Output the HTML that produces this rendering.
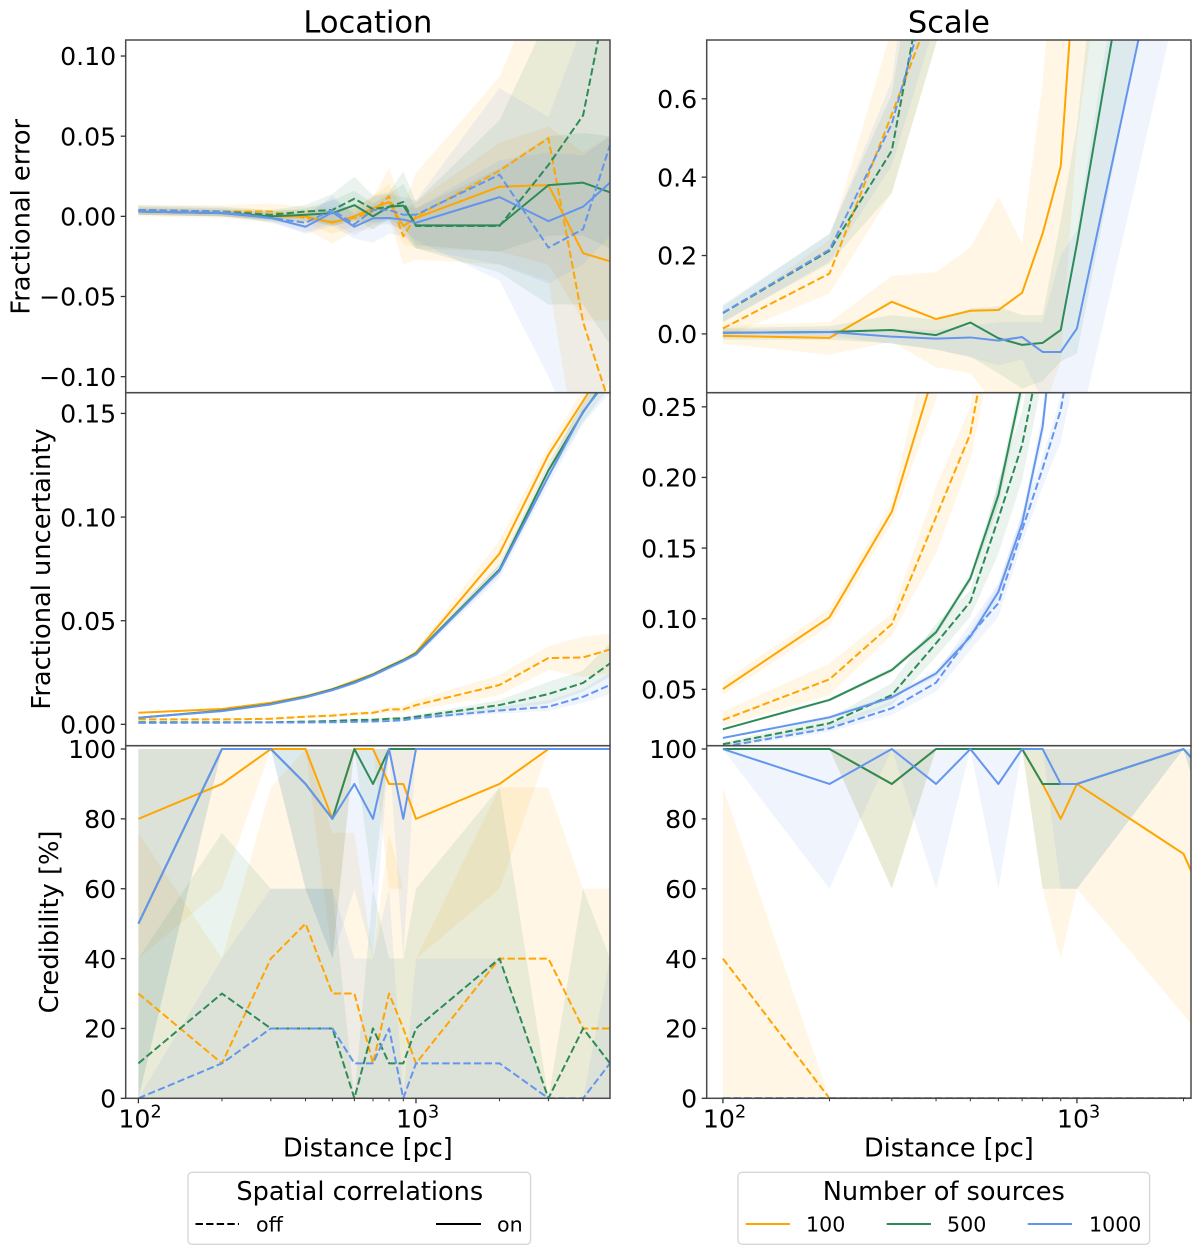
<!DOCTYPE html>
<html lang="en">
<head>
<meta charset="utf-8">
<title>Location and Scale fractional error, uncertainty and credibility</title>
<style>
html,body{margin:0;padding:0;background:#fff;}
svg{display:block;font-family:"DejaVu Sans","Liberation Sans",sans-serif;fill:#000;}
</style>
</head>
<body>
<svg id="figure" width="1200" height="1254" viewBox="0 0 1200 1254" xmlns="http://www.w3.org/2000/svg">
  <defs id="clip-defs"></defs>
  <g id="plots"></g>
  <text x="367.9" y="32.3" font-size="30.5" text-anchor="middle">Location</text>
  <text x="948.9" y="32.3" font-size="30.5" text-anchor="middle">Scale</text>
  <text transform="translate(29.5 216.8) rotate(-90)" font-size="25.7" text-anchor="middle">Fractional error</text>
  <text transform="translate(50 569) rotate(-90)" font-size="25.7" text-anchor="middle">Fractional uncertainty</text>
  <text transform="translate(58 922) rotate(-90)" font-size="25.7" text-anchor="middle">Credibility [%]</text>
  <text x="367.9" y="1156.7" font-size="25.5" text-anchor="middle">Distance [pc]</text>
  <text x="948.9" y="1156.7" font-size="25.5" text-anchor="middle">Distance [pc]</text>

  <g>
    <rect x="188" y="1172.3" width="342.6" height="72" rx="4" fill="#fff" stroke="#d6d6d6" stroke-width="1.3"/>
    <text x="359.8" y="1200" font-size="25.6" text-anchor="middle">Spatial correlations</text>
    <line x1="195.5" y1="1224" x2="239" y2="1224" stroke="#000" stroke-width="2" stroke-dasharray="7.4 3.2"/>
    <text x="256" y="1231.7" font-size="20.6">off</text>
    <line x1="436" y1="1224" x2="481" y2="1224" stroke="#000" stroke-width="2"/>
    <text x="497" y="1231.7" font-size="20.6">on</text>
  </g>
  <g>
    <rect x="738" y="1172.3" width="411.6" height="72" rx="4" fill="#fff" stroke="#d6d6d6" stroke-width="1.3"/>
    <text x="943.8" y="1200" font-size="25.6" text-anchor="middle">Number of sources</text>
    <line x1="745.6" y1="1224" x2="790" y2="1224" stroke="#ffa500" stroke-width="2"/>
    <text x="806" y="1231.7" font-size="20.6">100</text>
    <line x1="886.7" y1="1224" x2="931" y2="1224" stroke="#2e8b57" stroke-width="2"/>
    <text x="947" y="1231.7" font-size="20.6">500</text>
    <line x1="1027.7" y1="1224" x2="1072" y2="1224" stroke="#6495ed" stroke-width="2"/>
    <text x="1089" y="1231.7" font-size="20.6">1000</text>
  </g>
</svg>
<script>
// ---------- categories ----------
const distancesLocation = [100,200,300,400,500,600,700,800,900,1000,2000,3000,4000,5000];
const distancesScale = [100,200,300,400,500,600,700,800,900,1000,2000,3000];

// ---------- Location: fractional error ----------
const locErrOrangeOff = [.004,.003,.003,-.001,-.0035,-.001,.003,.0125,-.0125,0,.0285,.0487,-.066,-.118];
const locErrOrangeOffHi = [.007,.007,.008,.006,.006,.006,.012,.03,.006,.027,.087,.16,.13,.12];
const locErrOrangeOffLo = [.001,0,-.002,-.008,-.017,-.009,-.008,0,-.03,-.027,-.03,-.04,-.17,-.2];
const locErrOrangeOn = [.003,.002,0,0,-.004,0,.005,.009,-.006,-.001,.0185,.0195,-.023,-.028];
const locErrOrangeOnHi = [.006,.005,.004,.004,.003,.005,.013,.02,.004,.009,.046,.056,.04,.05];
const locErrOrangeOnLo = [0,-.001,-.004,-.004,-.011,-.006,-.003,-.002,-.017,-.02,-.022,-.03,-.065,-.065];
const locErrGreenOff = [.004,.003,.001,.003,.004,.011,.0045,.006,.009,-.006,-.006,.032,.063,.147];
const locErrGreenOffHi = [.007,.006,.004,.007,.014,.0247,.013,.015,.028,.009,.06,.125,.2,.3];
const locErrGreenOffLo = [.001,0,-.002,-.001,-.006,-.003,-.004,-.003,-.01,-.02,-.035,-.055,-.055,-.08];
const locErrGreenOn = [.003,.002,0,.001,.002,.007,0,.006,.0067,-.0056,-.0056,.0195,.021,.015];
const locErrGreenOnHi = [.005,.004,.003,.005,.01,.016,.008,.014,.02,.005,.03,.05,.052,.05];
const locErrGreenOnLo = [.001,0,-.003,-.003,-.006,-.002,-.008,-.002,-.006,-.018,-.022,-.012,-.012,-.02];
const locErrBlueOff = [.004,.003,-.001,-.004,.004,-.005,.004,.004,.001,.001,.026,-.0195,-.008,.0445];
const locErrBlueOffHi = [.006,.005,.002,.002,.011,.002,.012,.014,.012,.01,.08,.062,.12,.2];
const locErrBlueOffLo = [.002,.001,-.004,-.01,-.004,-.012,-.005,-.005,-.008,-.015,-.04,-.1,-.15,-.1];
const locErrBlueOn = [.003,.002,-.001,-.0065,.0025,-.0065,-.0012,-.001,-.002,-.004,.012,-.003,.006,.021];
const locErrBlueOnHi = [.005,.004,.001,-.001,.013,.001,.007,.008,.007,.005,.035,.04,.038,.05];
const locErrBlueOnLo = [.001,0,-.003,-.011,-.006,-.014,-.0165,-.011,-.012,-.02,-.03,-.042,-.03,-.012];

// ---------- Scale: fractional error ----------
const scaErrOrangeOff = [.014,.154,.56,.858,1.2,1.6,2,2.4,2.8,3.2,6,9];
const scaErrOrangeOffHi = [.045,.24,.78,1.4,1.9,2.4,3,3.5,4,4.5,8,12];
const scaErrOrangeOffLo = [-.01,.103,.36,.74,.9,1.2,1.5,1.8,2.2,2.6,4.5,7];
const scaErrOrangeOn = [-.005,-.01,.082,.038,.059,.061,.105,.256,.428,1.02,3,5];
const scaErrOrangeOnHi = [.02,.03,.148,.158,.22,.35,.23,.64,1.2,1.7,4,6];
const scaErrOrangeOnLo = [-.025,-.053,-.02,-.085,-.1,-.19,-.25,-.2,-.07,.5,2.5,4];
const scaErrGreenOff = [.053,.212,.468,1.07,1.4,1.8,2.2,2.6,3,3.4,6,9];
const scaErrGreenOffHi = [.074,.256,.612,1.3,1.7,2.1,2.5,3,3.4,3.8,7,10];
const scaErrGreenOffLo = [.03,.18,.36,.74,1.1,1.4,1.8,2.2,2.6,3,5,8];
const scaErrGreenOn = [.003,.005,.01,-.003,.029,-.011,-.028,-.023,.01,.23,1.82,3.5];
const scaErrGreenOnHi = [.015,.02,.048,.036,.065,.07,.048,.048,.29,.53,3,5];
const scaErrGreenOnLo = [-.015,-.015,-.024,-.04,-.058,-.1,-.14,-.12,-.07,-.05,1.35,3];
const scaErrBlueOff = [.054,.215,.536,.943,1.3,1.7,2.1,2.5,2.9,3.3,6,9];
const scaErrBlueOffHi = [.07,.255,.646,1.5,1.8,2.2,2.6,3,3.4,3.8,7,10];
const scaErrBlueOffLo = [.03,.185,.43,.8,1.1,1.4,1.8,2.2,2.6,3,5,8];
const scaErrBlueOn = [.003,.005,-.007,-.012,-.009,-.017,-.008,-.046,-.046,.014,1.29,2.5];
const scaErrBlueOnHi = [.012,.012,.012,.01,.02,.03,.03,.03,.2,.265,2,4];
const scaErrBlueOnLo = [-.01,-.005,-.025,-.04,-.06,-.08,-.065,-.17,-.25,-.266,.917,2];

// ---------- Location: fractional uncertainty ----------
const locUncOrangeOff = [.0024,.0024,.0027,.0037,.0042,.0051,.0056,.0072,.0072,.0093,.019,.032,.0323,.0361];
const locUncOrangeOffHi = [.0029,.0029,.0033,.0044,.005,.006,.0066,.0085,.0088,.0117,.0238,.0377,.0422,.0438];
const locUncOrangeOffLo = [.0019,.0019,.0021,.003,.0034,.0042,.0046,.0059,.0056,.0069,.0141,.0262,.023,.0246];
const locUncOrangeOn = [.0056,.0074,.0104,.0136,.017,.0209,.0242,.028,.031,.0347,.0824,.13,.156,.177];
const locUncOrangeOnHi = [.0059,.0078,.011,.0143,.0178,.0218,.0252,.029,.0325,.036,.0888,.134,.162,.185];
const locUncOrangeOnLo = [.0053,.007,.0098,.0129,.0162,.02,.0232,.027,.0298,.0335,.0765,.125,.15,.17];
const locUncGreenOff = [.001,.001,.001,.0013,.0016,.0021,.0022,.0027,.0029,.0037,.0093,.0146,.02,.0294];
const locUncGreenOffHi = [.0013,.0013,.0013,.0016,.002,.0026,.0027,.0033,.0036,.0046,.0117,.0205,.026,.039];
const locUncGreenOffLo = [.0007,.0007,.0007,.001,.0012,.0016,.0017,.0021,.0022,.0028,.0069,.0101,.0157,.023];
const locUncGreenOn = [.0032,.0066,.0098,.0133,.0169,.0204,.024,.0278,.031,.0342,.0747,.1225,.1506,.169];
const locUncGreenOnHi = [.0035,.0069,.0102,.0138,.0175,.0211,.0248,.0287,.0319,.0352,.077,.126,.155,.175];
const locUncGreenOnLo = [.0029,.0063,.0094,.0128,.0163,.0197,.0232,.0269,.0301,.0332,.0724,.119,.146,.163];
const locUncBlueOff = [.0007,.0008,.0009,.0009,.001,.0012,.0014,.0016,.002,.0029,.0067,.0085,.0133,.019];
const locUncBlueOffHi = [.0009,.001,.0011,.0011,.0013,.0015,.0018,.002,.0025,.0036,.0085,.0115,.017,.025];
const locUncBlueOffLo = [.0005,.0006,.0007,.0007,.0007,.0009,.001,.0012,.0015,.0022,.0052,.0065,.0105,.0145];
const locUncBlueOn = [.0032,.0064,.0096,.013,.0165,.02,.0236,.0273,.0305,.0337,.074,.1196,.151,.1675];
const locUncBlueOnHi = [.0035,.0068,.0101,.0136,.0172,.0208,.0245,.0283,.0315,.0348,.0775,.1235,.157,.175];
const locUncBlueOnLo = [.0029,.006,.0091,.0124,.0158,.0192,.0227,.0263,.0295,.0326,.0705,.1157,.145,.16];

// ---------- Scale: fractional uncertainty ----------
const scaUncOrangeOff = [.0283,.0571,.0962,.172,.231,.34,.5,.7,.9,1.1,3,5];
const scaUncOrangeOffHi = [.0342,.0684,.1038,.1934,.25,.38,.56,.78,1,1.2,3.4,5.5];
const scaUncOrangeOffLo = [.0236,.046,.0885,.1463,.2123,.31,.45,.62,.8,1,2.6,4.5];
const scaUncOrangeOn = [.0502,.101,.1757,.279,.45,.65,.9,1.2,1.5,1.8,4,6];
const scaUncOrangeOnHi = [.0554,.107,.1825,.32,.5,.72,1,1.3,1.6,2,4.5,7];
const scaUncOrangeOnLo = [.046,.095,.168,.2548,.4,.58,.8,1.1,1.4,1.6,3.5,5];
const scaUncGreenOff = [.0111,.026,.046,.0826,.112,.171,.223,.2957,.42,.6,2.2,3.6];
const scaUncGreenOffHi = [.0125,.03,.0543,.0967,.12,.198,.2465,.33,.46,.65,2.4,3.9];
const scaUncGreenOffLo = [.0095,.0225,.039,.0731,.1014,.146,.198,.27,.38,.55,2,3.3];
const scaUncGreenOn = [.0217,.0425,.0637,.0904,.1286,.1875,.266,.4,.55,.75,2.5,4];
const scaUncGreenOnHi = [.0225,.0435,.0655,.093,.132,.195,.275,.41,.57,.77,2.6,4.2];
const scaUncGreenOnLo = [.021,.0415,.062,.088,.125,.18,.257,.39,.53,.73,2.4,3.8];
const scaUncBlueOff = [.0094,.0224,.0366,.0547,.0885,.111,.1628,.2064,.2477,.3138,1.5,3];
const scaUncBlueOffHi = [.0115,.0255,.0415,.0613,.0967,.125,.1746,.2147,.2571,.34,1.7,3.3];
const scaUncBlueOffLo = [.008,.02,.032,.0484,.0778,.1014,.1533,.1934,.2253,.28,1.3,2.7];
const scaUncBlueOn = [.0156,.0302,.0443,.0613,.0873,.119,.1675,.236,.354,.5,2,3.5];
const scaUncBlueOnHi = [.0163,.0315,.046,.064,.091,.124,.174,.246,.37,.52,2.1,3.7];
const scaUncBlueOnLo = [.0149,.029,.0427,.059,.084,.114,.161,.226,.34,.48,1.9,3.3];

// ---------- Location: credibility ----------
const locCredOrangeOff = [30,10,40,50,30,30,10,30,20,10,40,40,20,20];
const locCredOrangeOffHi = [76,40,89,100,76,76,40,76,60,40,89,89,60,60];
const locCredOrangeOffLo = [0,0,0,0,0,0,0,0,0,0,0,0,0,0];
const locCredOrangeOn = [80,90,100,100,80,100,100,90,90,80,90,100,100,100];
const locCredOrangeOnHi = [100,100,100,100,100,100,100,100,100,100,100,100,100,100];
const locCredOrangeOnLo = [40,60,100,100,40,100,100,60,60,40,60,100,100,100];
const locCredGreenOff = [10,30,20,20,20,0,20,10,10,20,40,0,20,10];
const locCredGreenOffHi = [40,76,60,60,60,0,60,40,40,60,89,0,60,40];
const locCredGreenOffLo = [0,0,0,0,0,0,0,0,0,0,0,0,0,0];
const locCredGreenOn = [50,100,100,90,80,100,90,100,100,100,100,100,100,100];
const locCredGreenOnHi = [100,100,100,100,100,100,100,100,100,100,100,100,100,100];
const locCredGreenOnLo = [0,100,100,60,40,100,60,100,100,100,100,100,100,100];
const locCredBlueOff = [0,10,20,20,20,10,10,20,0,10,10,0,0,10];
const locCredBlueOffHi = [0,40,60,60,60,40,40,60,0,40,40,0,0,40];
const locCredBlueOffLo = [0,0,0,0,0,0,0,0,0,0,0,0,0,0];
const locCredBlueOn = [50,100,100,90,80,90,80,100,80,100,100,100,100,100];
const locCredBlueOnHi = [100,100,100,100,100,100,100,100,100,100,100,100,100,100];
const locCredBlueOnLo = [0,100,100,60,40,60,40,100,40,100,100,100,100,100];

// ---------- Scale: credibility ----------
const scaCredOrangeOff = [40,0,0,0,0,0,0,0,0,0,0,0];
const scaCredOrangeOffHi = [89,0,0,0,0,0,0,0,0,0,0,0];
const scaCredOrangeOffLo = [0,0,0,0,0,0,0,0,0,0,0,0];
const scaCredOrangeOn = [100,100,90,100,100,100,100,90,80,90,70,30];
const scaCredOrangeOnHi = [100,100,100,100,100,100,100,100,100,100,100,76];
const scaCredOrangeOnLo = [100,100,60,100,100,100,100,60,40,60,24,0];
const scaCredGreenOff = [0,0,0,0,0,0,0,0,0,0,0,0];
const scaCredGreenOffHi = [0,0,0,0,0,0,0,0,0,0,0,0];
const scaCredGreenOffLo = [0,0,0,0,0,0,0,0,0,0,0,0];
const scaCredGreenOn = [100,100,90,100,100,100,100,90,90,90,100,80];
const scaCredGreenOnHi = [100,100,100,100,100,100,100,100,100,100,100,100];
const scaCredGreenOnLo = [100,100,60,100,100,100,100,60,60,60,100,40];
const scaCredBlueOff = [0,0,0,0,0,0,0,0,0,0,0,0];
const scaCredBlueOffHi = [0,0,0,0,0,0,0,0,0,0,0,0];
const scaCredBlueOffLo = [0,0,0,0,0,0,0,0,0,0,0,0];
const scaCredBlueOn = [100,90,100,90,100,90,100,100,90,90,100,80];
const scaCredBlueOnHi = [100,100,100,100,100,100,100,100,100,100,100,100];
const scaCredBlueOnLo = [100,60,100,60,100,60,100,100,60,60,100,40];

// ---------- tick values and labels ----------
const locErrTicks = [-0.1,-0.05,0,0.05,0.1];
const locErrTickLabels = ['\u22120.10','\u22120.05','0.00','0.05','0.10'];
const scaErrTicks = [0,0.2,0.4,0.6];
const scaErrTickLabels = ['0.0','0.2','0.4','0.6'];
const locUncTicks = [0,0.05,0.1,0.15];
const locUncTickLabels = ['0.00','0.05','0.10','0.15'];
const scaUncTicks = [0.05,0.1,0.15,0.2,0.25];
const scaUncTickLabels = ['0.05','0.10','0.15','0.20','0.25'];
const credTicks = [0,20,40,60,80,100];
const credTickLabels = ['0','20','40','60','80','100'];
const xMajorTicks = [100,1000];
const xMajorExponents = ['2','3'];
const xMinorTicksLocation = [200,300,400,500,600,700,800,900,2000,3000,4000];
const xMinorTicksScale = [200,300,400,500,600,700,800,900,2000];

// ---------- drawing ----------
const NS = 'http://www.w3.org/2000/svg';
const plots = document.getElementById('plots');
const clipDefs = document.getElementById('clip-defs');

const colLeft = {x0:125.7, x1:610, xMin:90, xMax:5000, minors:xMinorTicksLocation};
const colRight = {x0:706.7, x1:1191, xMin:90, xMax:2100, minors:xMinorTicksScale};
const seriesKeys = ['orange-off','orange-on','green-off','green-on','blue-off','blue-on'];
const seriesColors = ['#ffa500','#ffa500','#2e8b57','#2e8b57','#6495ed','#6495ed'];

const panels = [
  {name:'location-error', col:colLeft, top:40, bottom:392.7, yMin:-0.11, yMax:0.11, xs:distancesLocation, ticks:locErrTicks, labels:locErrTickLabels, series:[
    [locErrOrangeOff,locErrOrangeOffLo,locErrOrangeOffHi],[locErrOrangeOn,locErrOrangeOnLo,locErrOrangeOnHi],
    [locErrGreenOff,locErrGreenOffLo,locErrGreenOffHi],[locErrGreenOn,locErrGreenOnLo,locErrGreenOnHi],
    [locErrBlueOff,locErrBlueOffLo,locErrBlueOffHi],[locErrBlueOn,locErrBlueOnLo,locErrBlueOnHi]]},
  {name:'scale-error', col:colRight, top:40, bottom:392.7, yMin:-0.15, yMax:0.75, xs:distancesScale, ticks:scaErrTicks, labels:scaErrTickLabels, series:[
    [scaErrOrangeOff,scaErrOrangeOffLo,scaErrOrangeOffHi],[scaErrOrangeOn,scaErrOrangeOnLo,scaErrOrangeOnHi],
    [scaErrGreenOff,scaErrGreenOffLo,scaErrGreenOffHi],[scaErrGreenOn,scaErrGreenOnLo,scaErrGreenOnHi],
    [scaErrBlueOff,scaErrBlueOffLo,scaErrBlueOffHi],[scaErrBlueOn,scaErrBlueOnLo,scaErrBlueOnHi]]},
  {name:'location-uncertainty', col:colLeft, top:392.7, bottom:745.7, yMin:-0.0103, yMax:0.16, xs:distancesLocation, ticks:locUncTicks, labels:locUncTickLabels, series:[
    [locUncOrangeOff,locUncOrangeOffLo,locUncOrangeOffHi],[locUncOrangeOn,locUncOrangeOnLo,locUncOrangeOnHi],
    [locUncGreenOff,locUncGreenOffLo,locUncGreenOffHi],[locUncGreenOn,locUncGreenOnLo,locUncGreenOnHi],
    [locUncBlueOff,locUncBlueOffLo,locUncBlueOffHi],[locUncBlueOn,locUncBlueOnLo,locUncBlueOnHi]]},
  {name:'scale-uncertainty', col:colRight, top:392.7, bottom:745.7, yMin:0.0101, yMax:0.26, xs:distancesScale, ticks:scaUncTicks, labels:scaUncTickLabels, series:[
    [scaUncOrangeOff,scaUncOrangeOffLo,scaUncOrangeOffHi],[scaUncOrangeOn,scaUncOrangeOnLo,scaUncOrangeOnHi],
    [scaUncGreenOff,scaUncGreenOffLo,scaUncGreenOffHi],[scaUncGreenOn,scaUncGreenOnLo,scaUncGreenOnHi],
    [scaUncBlueOff,scaUncBlueOffLo,scaUncBlueOffHi],[scaUncBlueOn,scaUncBlueOnLo,scaUncBlueOnHi]]},
  {name:'location-credibility', col:colLeft, top:745.7, bottom:1098.3, yMin:0, yMax:100.95, xs:distancesLocation, ticks:credTicks, labels:credTickLabels, hasXAxis:true, series:[
    [locCredOrangeOff,locCredOrangeOffLo,locCredOrangeOffHi],[locCredOrangeOn,locCredOrangeOnLo,locCredOrangeOnHi],
    [locCredGreenOff,locCredGreenOffLo,locCredGreenOffHi],[locCredGreenOn,locCredGreenOnLo,locCredGreenOnHi],
    [locCredBlueOff,locCredBlueOffLo,locCredBlueOffHi],[locCredBlueOn,locCredBlueOnLo,locCredBlueOnHi]]},
  {name:'scale-credibility', col:colRight, top:745.7, bottom:1098.3, yMin:0, yMax:100.95, xs:distancesScale, ticks:credTicks, labels:credTickLabels, hasXAxis:true, series:[
    [scaCredOrangeOff,scaCredOrangeOffLo,scaCredOrangeOffHi],[scaCredOrangeOn,scaCredOrangeOnLo,scaCredOrangeOnHi],
    [scaCredGreenOff,scaCredGreenOffLo,scaCredGreenOffHi],[scaCredGreenOn,scaCredGreenOnLo,scaCredGreenOnHi],
    [scaCredBlueOff,scaCredBlueOffLo,scaCredBlueOffHi],[scaCredBlueOn,scaCredBlueOnLo,scaCredBlueOnHi]]}
];

function xPos(panel, d) {
  const c = panel.col;
  const a = Math.log10(c.xMin), b = Math.log10(c.xMax);
  return c.x0 + (Math.log10(d) - a) / (b - a) * (c.x1 - c.x0);
}
function yPos(panel, v) {
  return panel.bottom - (v - panel.yMin) / (panel.yMax - panel.yMin) * (panel.bottom - panel.top);
}
function make(tag, attrs) {
  const el = document.createElementNS(NS, tag);
  for (const k in attrs) el.setAttribute(k, attrs[k]);
  return el;
}

// row-stacked panels: draw bands and lines first, then frames and labels
panels.forEach(function (panel) {
  const clip = make('clipPath', {id: 'clip-' + panel.name});
  clip.appendChild(make('rect', {x: panel.col.x0, y: panel.top, width: panel.col.x1 - panel.col.x0, height: panel.bottom - panel.top}));
  clipDefs.appendChild(clip);

  const group = make('g', {'clip-path': 'url(#clip-' + panel.name + ')'});
  
  
  plots.appendChild(group);

  panel.series.forEach(function (s, i) {
    const up = panel.xs.map(function (d, j) { return xPos(panel, d).toFixed(2) + ',' + yPos(panel, s[2][j]).toFixed(2); });
    const down = panel.xs.map(function (d, j) { return xPos(panel, d).toFixed(2) + ',' + yPos(panel, s[1][j]).toFixed(2); }).reverse();
    const band = make('polygon', {points: up.concat(down).join(' '), fill: seriesColors[i], 'fill-opacity': 0.1, stroke: 'none'});
    
    
    group.appendChild(band);
  });

  panel.series.forEach(function (s, i) {
    const pts = panel.xs.map(function (d, j) { return xPos(panel, d).toFixed(2) + ',' + yPos(panel, s[0][j]).toFixed(2); });
    const line = make('polyline', {points: pts.join(' '), fill: 'none', stroke: seriesColors[i], 'stroke-width': 2, 'stroke-linejoin': 'round'});
    if (i % 2 === 0) line.setAttribute('stroke-dasharray', '7.4 3.2');
    
    
    group.appendChild(line);
  });
});

panels.forEach(function (panel) {
  const axis = make('g', {});
  
  
  plots.appendChild(axis);

  const frame = make('rect', {x: panel.col.x0, y: panel.top, width: panel.col.x1 - panel.col.x0, height: panel.bottom - panel.top, fill: 'none', stroke: '#4a4a4a', 'stroke-width': 1.5});
  
  
  axis.appendChild(frame);

  panel.ticks.forEach(function (t, i) {
    const y = yPos(panel, t);
    const tick = make('line', {x1: panel.col.x0 - 5, x2: panel.col.x0, y1: y, y2: y, stroke: '#333', 'stroke-width': 1.3});
    
    
    axis.appendChild(tick);
    const label = make('text', {x: panel.col.x0 - 9.5, y: y + 9.2, 'font-size': 25.2, 'text-anchor': 'end'});
    label.textContent = panel.labels[i];
    
    
    axis.appendChild(label);
  });

  if (panel.hasXAxis) {
    xMajorTicks.forEach(function (d, i) {
      const x = xPos(panel, d);
      const tick = make('line', {x1: x, x2: x, y1: panel.bottom, y2: panel.bottom + 5, stroke: '#333', 'stroke-width': 1.3});
      
      
      axis.appendChild(tick);
      const label = make('text', {x: x - 20, y: 1127.5, 'font-size': 25.2});
      label.textContent = '10';
      const sup = make('tspan', {dy: -10, 'font-size': 17.6});
      sup.textContent = xMajorExponents[i];
      label.appendChild(sup);
      
      
      axis.appendChild(label);
    });
    panel.col.minors.forEach(function (d) {
      const x = xPos(panel, d);
      const tick = make('line', {x1: x, x2: x, y1: panel.bottom, y2: panel.bottom + 3, stroke: '#333', 'stroke-width': 1});
      
      
      axis.appendChild(tick);
    });
  }
});
</script>
</body>
</html>
